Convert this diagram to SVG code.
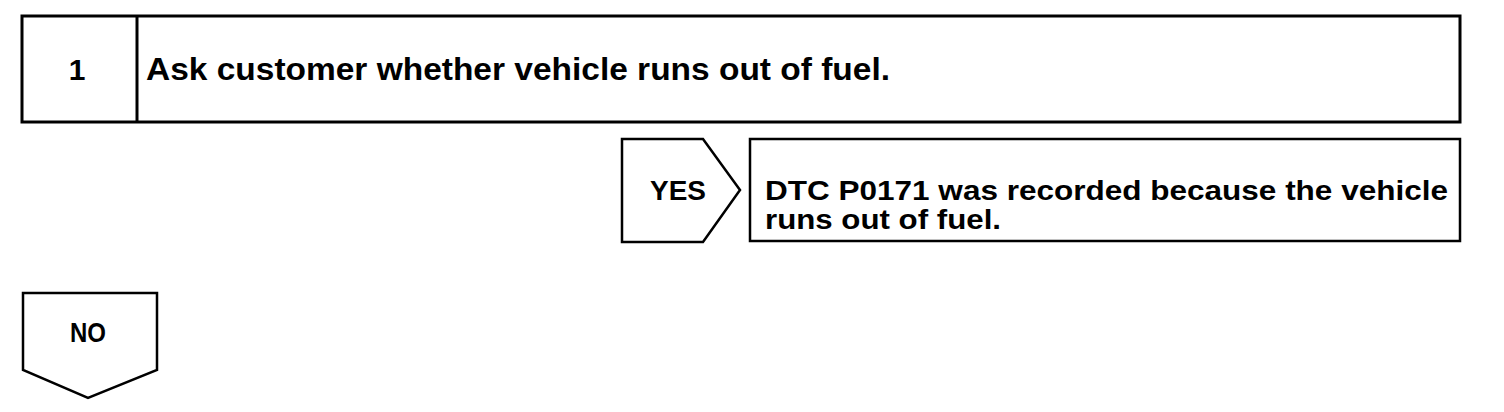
<svg xmlns="http://www.w3.org/2000/svg" width="1504" height="412" viewBox="0 0 1504 412">
<style>
.b{fill:#fff;stroke:#000;stroke-width:2.5}
.t{font-family:"Liberation Sans",Arial,sans-serif;font-weight:bold;fill:#000}
</style>
<rect width="1504" height="412" fill="#fff"/>
<g id="step1">
<rect class="b" x="22" y="16" width="1438" height="106" style="stroke-width:3"/>
<line x1="137" y1="16" x2="137" y2="122" stroke="#000" stroke-width="3"/>
<text class="t" x="77" y="80" font-size="30" text-anchor="middle">1</text>
<text class="t" x="146" y="80" font-size="31" textLength="744" lengthAdjust="spacingAndGlyphs">Ask customer whether vehicle runs out of fuel.</text>
</g>
<g id="yes">
<polygon class="b" points="622,139 703,139 740,190 703,242 622,242"/>
<text class="t" x="678" y="200" font-size="27" text-anchor="middle" textLength="56" lengthAdjust="spacingAndGlyphs">YES</text>
</g>
<g id="result">
<rect class="b" x="750" y="139" width="710" height="102"/>
<text class="t" x="765" y="200" font-size="28" textLength="683" lengthAdjust="spacingAndGlyphs">DTC P0171 was recorded because the vehicle</text>
<text class="t" x="765" y="229" font-size="28" textLength="236" lengthAdjust="spacingAndGlyphs">runs out of fuel.</text>
</g>
<g id="no">
<polygon class="b" points="23,293 157,293 157,370 88,398 23,370"/>
<text class="t" x="88" y="342" font-size="27" text-anchor="middle" textLength="36" lengthAdjust="spacingAndGlyphs">NO</text>
</g>
<g id="connectors"></g>
</svg>
